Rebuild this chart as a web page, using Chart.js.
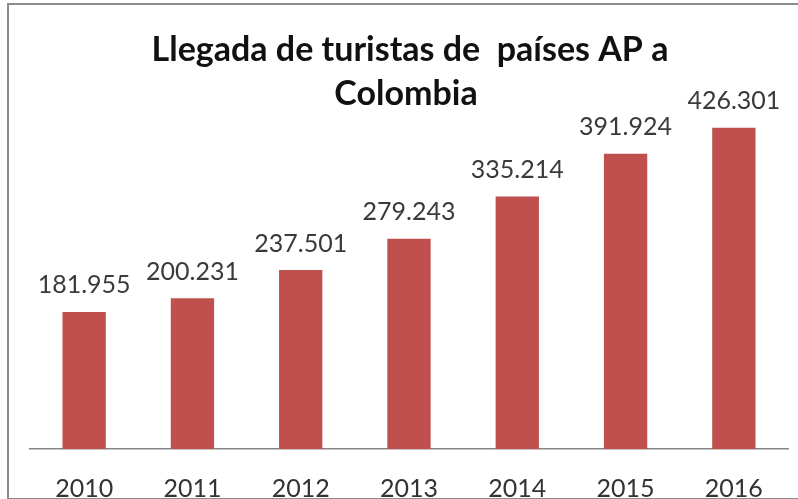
<!DOCTYPE html>
<html>
<head>
<meta charset="utf-8">
<script src="https://cdn.jsdelivr.net/npm/chart.js@4.4.1/dist/chart.umd.min.js"></script>
<style>
  html, body { margin: 0; padding: 0; background: #fff; overflow: hidden; }
  .wrap { position: relative; width: 798px; height: 538px; }
  .frame {
    position: absolute; left: 7px; top: 3px; width: 800px; height: 493px;
    border-left: 2px solid #8c8c8c; border-top: 2px solid #8c8c8c; border-bottom: 2px solid #8c8c8c;
    pointer-events: none;
  }
</style>
</head>
<body>
<div class="wrap">
  <canvas id="myChart" width="798" height="538"></canvas>
  <div class="frame"></div>
</div>
<script>
const years = ["2010", "2011", "2012", "2013", "2014", "2015", "2016"]
const tourists = [181955, 200231, 237501, 279243, 335214, 391924, 426301]
const titleLines = ["Llegada de turistas de  países AP a", "Colombia"]
const FONT = "Lato, 'Open Sans', sans-serif"

// numbers like 181.955
function formatNumber(n) {
  return String(n).replace(/\B(?=(\d{3})+(?!\d))/g, ".")
}

const titlePlugin = {
  id: "drawTitle",
  afterDraw(chart) {
    const c = chart.ctx
    c.save()
    c.fillStyle = "#111"
    c.font = "bold 34px " + FONT
    c.textAlign = "center"
    c.textBaseline = "middle"
    c.fillText(titleLines[0], 410, 50)
    c.fillText(titleLines[1], 406, 94)
    c.restore()
  }
}

const valueLabels = {
  id: "valueLabels",
  afterDatasetsDraw(chart) {
    const c = chart.ctx
    const meta = chart.getDatasetMeta(0)
    c.save()
    c.fillStyle = "#3a3a3a"
    c.font = "25px " + FONT
    c.textAlign = "center"
    c.textBaseline = "bottom"
    meta.data.forEach((bar, i) => {
      c.fillText(formatNumber(tourists[i]), bar.x, bar.y - 14)
    })
    c.restore()
  }
}

const ctx = document.getElementById("myChart")
const myChart = new Chart(ctx, {
  type: "bar",
  data: {
    labels: years,
    datasets: [{
      data: tourists,
      backgroundColor: "#c0504d",
      categoryPercentage: 1,
      barPercentage: 0.4
    }]
  },
  options: {
    responsive: false,
    animation: false,
    layout: { padding: { left: 30, right: 10, top: 110, bottom: 9 } },
    plugins: { legend: { display: false }, tooltip: { enabled: false }, title: { display: false } },
    scales: {
      x: {
        grid: { display: false, drawTicks: false },
        border: { display: true, color: "#868686", width: 1.5 },
        ticks: { color: "#333", font: { family: FONT, size: 25 }, padding: 25 }
      },
      y: {
        display: false,
        min: 0,
        max: 450000
      }
    }
  },
  plugins: [titlePlugin, valueLabels]
})
</script>
</body>
</html>
